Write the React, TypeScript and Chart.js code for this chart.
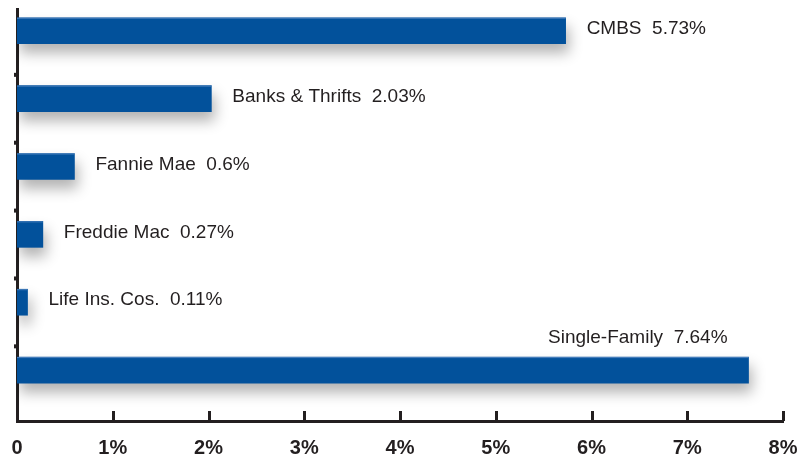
import React, { useEffect, useRef } from "react";
import { Chart, registerables } from "chart.js";

Chart.register(...registerables);

const categories = ["CMBS", "Banks & Thrifts", "Fannie Mae", "Freddie Mac", "Life Ins. Cos.", "Single-Family"];
const values = [5.73, 2.03, 0.6, 0.27, 0.11, 7.64];
const positions = [5, 4, 3, 2, 1, 0];
const xTicks = [0, 1, 2, 3, 4, 5, 6, 7, 8];
const xTickLabels = ["0", "1%", "2%", "3%", "4%", "5%", "6%", "7%", "8%"];
const yNotches = [0.35, 1.35, 2.35, 3.35, 4.35];

const AXIS = "#231f20";
const BAR = "#02519b";

export default function App() {
  const ref = useRef<HTMLCanvasElement | null>(null);

  useEffect(() => {
    const canvas = ref.current;
    if (!canvas) return;

    const shadowPlugin = {
      id: "shadow",
      beforeDatasetsDraw(chart: any) {
        const ctx = chart.ctx;
        ctx.save();
        ctx.shadowColor = "rgba(0,0,0,0.3)";
        ctx.shadowBlur = 14;
        ctx.shadowOffsetX = 3;
        ctx.shadowOffsetY = 9;
      },
      afterDatasetsDraw(chart: any) {
        const ctx = chart.ctx;
        ctx.restore();
        const meta = chart.getDatasetMeta(0);
        ctx.save();
        ctx.fillStyle = "#4a80bd";
        meta.data.forEach((bar: any) => {
          const p = bar.getProps(["x", "y", "base", "height"], true);
          ctx.fillRect(p.base, p.y - p.height / 2, p.x - p.base, 1);
        });
        ctx.restore();
      },
    };

    const decoPlugin = {
      id: "deco",
      afterDraw(chart: any) {
        const ctx = chart.ctx;
        const xs = chart.scales.x;
        const ys = chart.scales.y;
        const area = chart.chartArea;
        ctx.save();
        ctx.strokeStyle = AXIS;
        ctx.lineWidth = 3;
        xTicks.forEach((v, i) => {
          if (i === 0) return;
          const px = Math.round(xs.getPixelForValue(v)) + 0.5;
          ctx.beginPath();
          ctx.moveTo(px, area.bottom);
          ctx.lineTo(px, area.bottom - 10);
          ctx.stroke();
        });
        ctx.fillStyle = AXIS;
        yNotches.forEach((v) => {
          const py = ys.getPixelForValue(v);
          ctx.fillRect(area.left - 3, py - 2, 3, 4);
        });
        const meta = chart.getDatasetMeta(0);
        ctx.font = "19px 'Liberation Sans', Arial, sans-serif";
        ctx.fillStyle = "#231f20";
        ctx.textBaseline = "middle";
        meta.data.forEach((bar: any, i: number) => {
          const text = categories[i] + "  " + values[i] + "%";
          if (i === categories.length - 1) {
            ctx.textAlign = "right";
            ctx.fillText(text, bar.x - 21, bar.y - 32);
          } else {
            ctx.textAlign = "left";
            ctx.fillText(text, bar.x + 21, bar.y - 2);
          }
        });
        ctx.restore();
      },
    };

    const chart = new Chart(canvas, {
      type: "bar",
      data: {
        datasets: [
          {
            data: values.map((v, i) => ({ x: v, y: positions[i] })),
            backgroundColor: BAR,
            borderWidth: 0,
            barThickness: 26,
          },
        ],
      },
      options: {
        indexAxis: "y",
        animation: false,
        responsive: false,
        maintainAspectRatio: false,
        layout: { padding: { left: 17, right: 25, top: 9, bottom: 0 } },
        plugins: { legend: { display: false }, tooltip: { enabled: false } },
        scales: {
          x: {
            type: "linear",
            min: 0,
            max: 8,
            afterBuildTicks: (s: any) => {
              s.ticks = xTicks.map((v) => ({ value: v }));
            },
            afterFit: (s: any) => {
              s.height = 39;
              s.paddingLeft = 0;
              s.paddingRight = 0;
            },
            ticks: {
              callback: (_v: any, i: number) => xTickLabels[i],
              font: { family: "'Liberation Sans', Arial, sans-serif", size: 20, weight: "bold" },
              color: "#231f20",
              padding: 15,
              maxRotation: 0,
              autoSkip: false,
            },
            grid: { display: false, drawOnChartArea: false, tickLength: 0 },
            border: { display: true, color: AXIS, width: 3 },
          },
          y: {
            type: "linear",
            min: -0.75,
            max: 5.32,
            offset: false,
            afterFit: (s: any) => {
              s.width = 0;
              s.paddingTop = 0;
              s.paddingBottom = 0;
            },
            ticks: { display: false },
            grid: { display: false, drawOnChartArea: false, tickLength: 0 },
            border: { display: true, color: AXIS, width: 3 },
          },
        },
      },
      plugins: [shadowPlugin, decoPlugin],
    });

    return () => chart.destroy();
  }, []);

  return (
    <div style={{ position: "fixed", left: 0, top: 0, width: 808, height: 460, background: "#fff" }}>
      <canvas ref={ref} width={808} height={460} style={{ width: 808, height: 460 }} />
    </div>
  );
}
